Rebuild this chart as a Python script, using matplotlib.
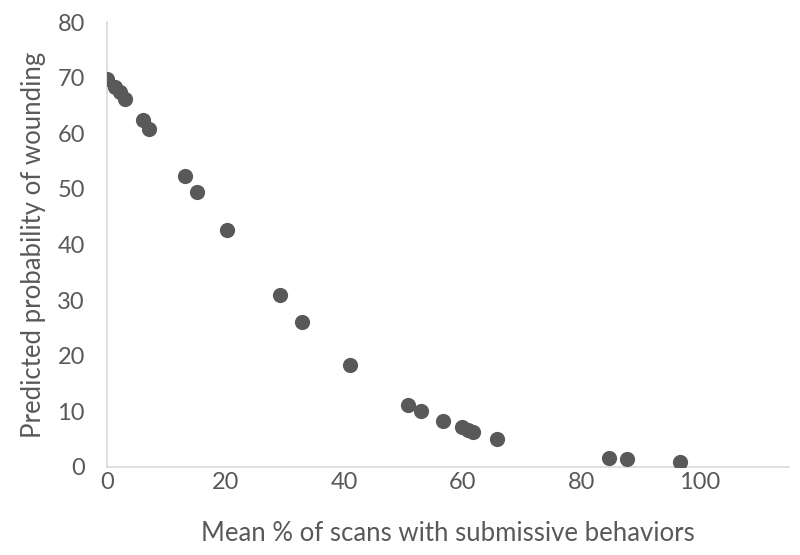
import matplotlib
matplotlib.use("Agg")
import matplotlib.pyplot as plt

# data
submissive_pct = [0, 1.3, 2.2, 3.0, 6.1, 7.1, 13.2, 15.1, 20.2, 29.2, 32.9, 41.0,
                  50.8, 53.0, 56.7, 59.8, 60.8, 61.8, 65.7, 84.7, 87.7, 96.7]
wound_prob = [69.7, 68.4, 67.4, 66.1, 62.4, 60.8, 52.4, 49.5, 42.6, 30.9, 26.1, 18.3,
              11.1, 10.1, 8.3, 7.1, 6.7, 6.3, 5.0, 1.6, 1.4, 0.9]

x_ticks = [0, 20, 40, 60, 80, 100]
y_ticks = [0, 10, 20, 30, 40, 50, 60, 70, 80]

plt.rcParams['font.family'] = ['Lato', 'DejaVu Sans']
grey = '#595959'

fig = plt.figure(figsize=(8, 5.55), dpi=100)
ax = fig.add_axes([0.134, 0.159, 0.852, 0.801])

ax.scatter(submissive_pct, wound_prob, s=120, color=grey, linewidths=0, zorder=3)

ax.set_xlim(0, 115)
ax.set_ylim(0, 80)
ax.set_xticks(x_ticks)
ax.set_yticks(y_ticks)
ax.tick_params(length=0, labelsize=17, colors=grey)
ax.tick_params(axis='y', pad=16)
ax.tick_params(axis='x', pad=4)

for side in ['top', 'right']:
    ax.spines[side].set_visible(False)
for side in ['left', 'bottom']:
    ax.spines[side].set_color('#d9d9d9')
    ax.spines[side].set_linewidth(1.2)

ax.set_xlabel("Mean % of scans with submissive behaviors", fontsize=18.5, color=grey, labelpad=20)
ax.set_ylabel("Predicted probability of wounding", fontsize=18.5, color=grey, labelpad=8)

fig.savefig("out.png", dpi=100)
